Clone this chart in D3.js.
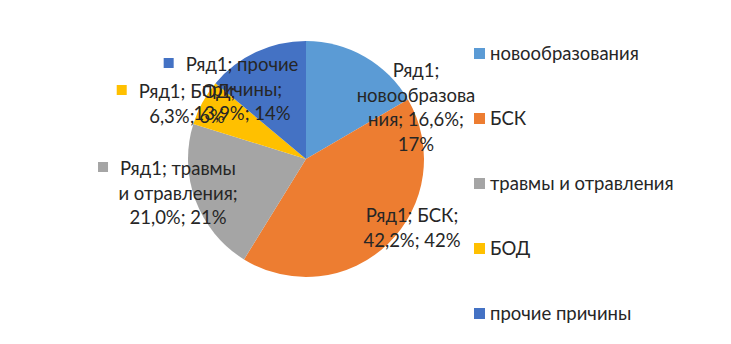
<!DOCTYPE html>
<html>
<head>
<meta charset="utf-8">
<script src="https://cdn.jsdelivr.net/npm/d3@7"></script>
<style>
  html, body { margin: 0; padding: 0; background: #fff; }
  svg text { font-family: Lato, "Liberation Sans", sans-serif; fill: #262626; }
</style>
</head>
<body>
<svg id="chart" width="731" height="344"></svg>
<script>
// Causes of death, share of total (%)
const categories = ["новообразования", "БСК", "травмы и отравления", "БОД", "прочие причины"];
const values = [16.6, 42.2, 21.0, 6.3, 13.9];
const rounded = ["17%", "42%", "21%", "6%", "14%"];
const seriesName = "Ряд1";
const colors = ["#5B9BD5", "#ED7D31", "#A5A5A5", "#FFC000", "#4472C4"];

const svg = d3.select("#chart");
const cx = 306, cy = 159, r = 118;

const pie = d3.pie().sort(null).value(d => d)(values);
const arc = d3.arc().innerRadius(0).outerRadius(r);

const g = svg.append("g").attr("transform", `translate(${cx},${cy})`);
g.selectAll("path.slice")
  .data(pie)
  .join("path")
  .attr("class", "slice")
  .attr("d", arc)
  .attr("fill", (d, i) => colors[i]);

// Data labels: wrapped lines, anchor offset from pie centre, optional legend key
const fmt = v => v.toFixed(1).replace(".", ",") + "%";
const labelLayout = [
  { dx: 110, dy: -89, lines: i => [seriesName + ";", "новообразова", "ния; " + fmt(values[i]) + ";", rounded[i]], key: false },
  { dx: 106, dy: 56, lines: i => [seriesName + "; " + categories[i] + ";", fmt(values[i]) + "; " + rounded[i]], key: false },
  { dx: -128, dy: 9, lines: i => [seriesName + "; травмы", "и отравления;", fmt(values[i]) + "; " + rounded[i]], key: true },
  { dx: -119, dy: -68, lines: i => [seriesName + "; " + categories[i] + ";", fmt(values[i]) + "; " + rounded[i]], key: true },
  { dx: -64, dy: -95, lines: i => [seriesName + "; прочие", "причины;", fmt(values[i]) + "; " + rounded[i]], key: true }
];

const lineH = 24.5, fs = 18.5;
labelLayout.forEach((L, i) => {
  const lines = L.lines(i);
  const lg = g.append("g").attr("transform", `translate(${L.dx},${L.dy})`);
  lines.forEach((t, k) => {
    const txt = lg.append("text")
      .attr("x", 0)
      .attr("y", k * lineH)
      .attr("text-anchor", "middle")
      .attr("dominant-baseline", "central")
      .style("font-size", fs + "px")
      .text(t);
    if (k === 0 && L.key) {
      const w = txt.node().getComputedTextLength();
      lg.append("rect")
        .attr("x", -w / 2 - 22)
        .attr("y", -6)
        .attr("width", 10)
        .attr("height", 10)
        .attr("fill", colors[i]);
    }
  });
});

// Legend
const legendY = d3.scalePoint().domain(categories).range([53, 313]);
const lgd = svg.append("g");
categories.forEach((c, i) => {
  const y = legendY(c);
  lgd.append("rect")
    .attr("x", 474).attr("y", y - 5)
    .attr("width", 11).attr("height", 11)
    .attr("fill", colors[i]);
  lgd.append("text")
    .attr("x", 490).attr("y", y)
    .attr("dominant-baseline", "central")
    .style("font-size", "18.5px")
    .text(c);
});
</script>
</body>
</html>
